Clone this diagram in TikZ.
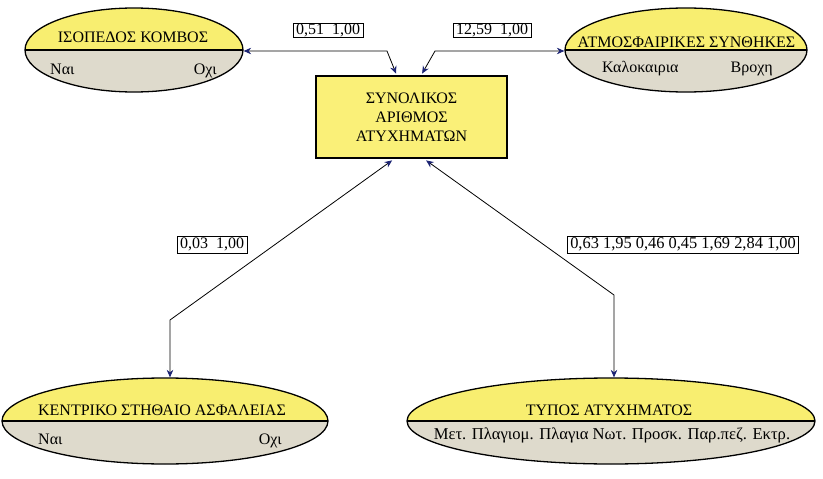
\documentclass[tikz,border=0pt]{standalone}
\usepackage{fontspec}
\setmainfont{Liberation Serif}
\usetikzlibrary{shapes.geometric,arrows.meta,calc}
\definecolor{yel}{RGB}{248,238,112}
\definecolor{boxyel}{RGB}{250,240,120}
\definecolor{gry}{RGB}{222,218,204}
\definecolor{navy}{RGB}{28,36,115}
\tikzset{
  halfell/.style={ellipse, draw=black, line width=1.3pt, inner sep=0pt, fill=gry,
    path picture={\fill[yel] (path picture bounding box.north west) rectangle (path picture bounding box.east);
      \draw[line width=1.1pt] (path picture bounding box.west) -- (path picture bounding box.east);}},
  txt/.style={font=\fontsize{16}{19}\selectfont, inner sep=0pt},
  lbl/.style={draw, line width=0.7pt, font=\fontsize{16}{19}\selectfont, inner xsep=3pt, inner ysep=0pt, text height=11.5pt, text depth=3pt},
  mainbox/.style={draw=black, line width=1.8pt, fill=boxyel, minimum width=191pt, minimum height=82pt, align=center, font=\fontsize{16}{19}\selectfont},
  conn/.style={line width=0.8pt, {Stealth[color=navy,length=7.5pt,width=6.5pt]}-{Stealth[color=navy,length=7.5pt,width=6.5pt]}}
}
\begin{document}
\begin{tikzpicture}[x=1pt,y=-1pt]
\useasboundingbox (0,0) rectangle (823,479);

% nodes
\node[halfell, minimum width=218pt, minimum height=84pt] (e1) at (134,50) {};
\node[halfell, minimum width=242pt, minimum height=84pt] (e2) at (686,50) {};
\node[halfell, minimum width=326pt, minimum height=86pt] (e3) at (165,421) {};
\node[halfell, minimum width=408pt, minimum height=86pt] (e4) at (611,421) {};
\node[mainbox] (box) at (411.5,117) {ΣΥΝΟΛΙΚΟΣ\\ΑΡΙΘΜΟΣ\\ΑΤΥΧΗΜΑΤΩΝ};

% ellipse texts
\node[txt, anchor=base] (t1) at (133,42) {ΙΣΟΠΕΔΟΣ ΚΟΜΒΟΣ};
\node[txt, anchor=base west] (t1a) at (50,74) {Ναι};
\node[txt, anchor=base east] (t1b) at (217,74) {Οχι};

\node[txt, anchor=base] (t2) at (686.5,47) {ΑΤΜΟΣΦΑΙΡΙΚΕΣ ΣΥΝΘΗΚΕΣ};
\node[txt, anchor=base west] (t2a) at (602,72) {Καλοκαιρια};
\node[txt, anchor=base east] (t2b) at (773,72) {Βροχη};

\node[txt, anchor=base] (t3) at (162,415) {ΚΕΝΤΡΙΚΟ ΣΤΗΘΑΙΟ ΑΣΦΑΛΕΙΑΣ};
\node[txt, anchor=base west] (t3a) at (38,444) {Ναι};
\node[txt, anchor=base east] (t3b) at (282,444) {Οχι};

\node[txt, anchor=base] (t4) at (609,415) {ΤΥΠΟΣ ΑΤΥΧΗΜΑΤΟΣ};
\node[txt, anchor=base, font=\fontsize{16.6}{19}\selectfont] (t4a) at (612,439) {Μετ. Πλαγιομ. Πλαγια Νωτ. Προσκ. Παρ.πεζ. Εκτρ.};

% labels
\node[lbl] (l1) at (328,30.5) {0,51\ \ 1,00};
\node[lbl] (l2) at (492,30.5) {12,59\ \ 1,00};
\node[lbl, text height=12.5pt, text depth=4.5pt] (l3) at (212,244.5) {0,03\ \ 1,00};
\node[lbl, text height=12.5pt, text depth=4.5pt, font=\fontsize{16.4}{19}\selectfont] (l4) at (683,244.5) {0,63 1,95 0,46 0,45 1,69 2,84 1,00};

% bend points and box attachment points
\coordinate (b1) at (387,51);
\coordinate (b2) at (435,51);
\coordinate (b3) at (170,320);
\coordinate (b4) at (614,295);
\coordinate (pt1) at ($(box.north west)+(81,-1.5)$);
\coordinate (pt2) at ($(box.north west)+(107,-1.5)$);
\coordinate (pb1) at ($(box.south west)+(77,1.5)$);
\coordinate (pb2) at ($(box.south west)+(111,1.5)$);

% connectors
\draw[conn] (e1.east |- b1) -- (b1) -- (pt1);
\draw[conn] (e2.west |- b2) -- (b2) -- (pt2);
\draw[conn] (pb1) -- (b3) -- (b3 |- e3.north);
\draw[conn] (pb2) -- (b4) -- (b4 |- e4.north);
\end{tikzpicture}
\end{document}
